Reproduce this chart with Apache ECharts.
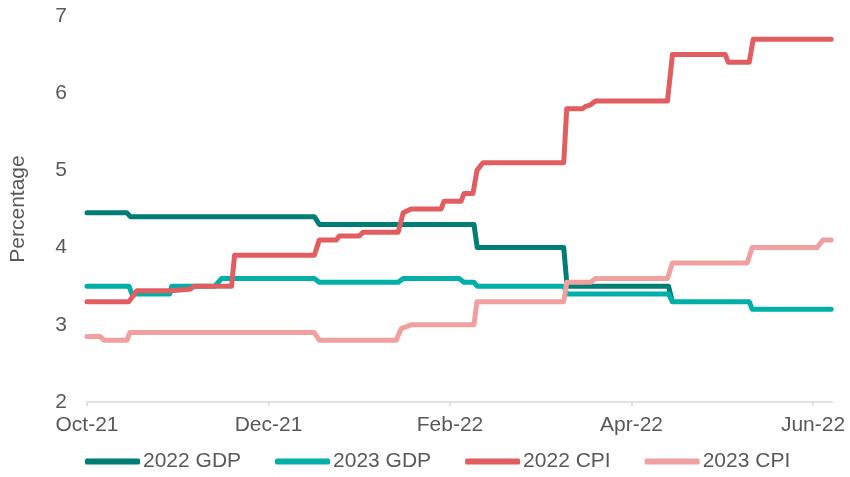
<!DOCTYPE html>
<html>
<head>
<meta charset="utf-8">
<title>GDP and CPI forecasts</title>
<script src="https://cdn.jsdelivr.net/npm/echarts@6/dist/echarts.min.js"></script>
<style>
  html, body { margin: 0; padding: 0; background: #ffffff; }
  #chart { width: 850px; height: 477px; }
</style>
</head>
<body>
<div id="chart"></div>
<script>
// x positions are measured in months from 1 Oct 2021
const tickLabels = ['Oct-21', 'Dec-21', 'Feb-22', 'Apr-22', 'Jun-22'];
const tickStep = 2;

const seriesNames = ['2022 GDP', '2023 GDP', '2022 CPI', '2023 CPI'];

const gdp2022 = [
  [0, 4.45], [0.44, 4.45], [0.48, 4.4], [2.505, 4.4], [2.56, 4.3],
  [4.264, 4.3], [4.30, 4.0], [5.253, 4.0], [5.29, 3.5], [6.407, 3.5], [6.45, 3.3]
];

const gdp2023 = [
  [0, 3.5], [0.462, 3.5], [0.495, 3.4], [0.912, 3.4], [0.934, 3.5],
  [1.407, 3.5], [1.484, 3.6], [2.505, 3.6], [2.56, 3.55], [3.429, 3.55],
  [3.484, 3.6], [4.099, 3.6], [4.154, 3.55], [4.264, 3.55], [4.30, 3.5],
  [5.253, 3.5], [5.29, 3.4], [6.407, 3.4], [6.45, 3.3], [7.297, 3.3],
  [7.33, 3.2], [8.2, 3.2]
];

const cpi2022 = [
  [0, 3.3], [0.462, 3.3], [0.549, 3.44], [0.912, 3.44], [0.934, 3.46],
  [1.132, 3.46], [1.187, 3.5], [1.593, 3.5], [1.626, 3.9], [2.505, 3.9],
  [2.56, 4.1], [2.747, 4.1], [2.78, 4.15], [3.0, 4.15], [3.044, 4.2],
  [3.429, 4.2], [3.484, 4.45], [3.571, 4.5], [3.901, 4.5], [3.934, 4.6],
  [4.121, 4.6], [4.154, 4.7], [4.253, 4.7], [4.297, 5.0], [4.363, 5.1],
  [5.253, 5.1], [5.286, 5.8], [5.462, 5.8], [5.495, 5.83], [5.549, 5.85],
  [5.604, 5.9], [6.396, 5.9], [6.451, 6.5], [7.033, 6.5], [7.066, 6.4],
  [7.297, 6.4], [7.341, 6.7], [8.2, 6.7]
];

const cpi2023 = [
  [0, 2.85], [0.143, 2.85], [0.187, 2.8], [0.44, 2.8], [0.473, 2.9],
  [2.505, 2.9], [2.56, 2.8], [3.407, 2.8], [3.462, 2.95], [3.571, 3.0],
  [4.264, 3.0], [4.297, 3.3], [5.253, 3.3], [5.286, 3.55], [5.549, 3.55],
  [5.604, 3.6], [6.396, 3.6], [6.451, 3.8], [7.275, 3.8], [7.33, 4.0],
  [8.044, 4.0], [8.11, 4.1], [8.2, 4.1]
];

const colors = ['#007d74', '#00afa8', '#e15d60', '#f1a0a0'];
const seriesData = [gdp2022, gdp2023, cpi2022, cpi2023];

const textColor = '#595959';
const fontFamily = '"Liberation Sans", Arial, sans-serif';

const chart = echarts.init(document.getElementById('chart'), null, { renderer: 'canvas' });

chart.setOption({
  animation: false,
  backgroundColor: '#ffffff',
  color: colors,
  textStyle: { fontFamily: fontFamily, color: textColor },
  grid: { left: 85, right: 17, top: 16, bottom: 75, containLabel: false },
  legend: {
    data: seriesNames,
    left: 85,
    top: 451,
    padding: 0,
    icon: 'roundRect',
    itemWidth: 55,
    itemHeight: 6,
    itemGap: 34,
    textStyle: { fontSize: 21, color: textColor, fontFamily: fontFamily, padding: [0, 0, 0, -2] }
  },
  xAxis: {
    type: 'value',
    min: 0,
    max: 8.22,
    interval: tickStep,
    splitLine: { show: false },
    axisLine: { show: true, lineStyle: { color: '#d9d9d9', width: 1.5 } },
    axisTick: { show: true, length: 4, lineStyle: { color: '#d9d9d9', width: 1.5 } },
    axisLabel: {
      margin: 13,
      fontSize: 21,
      color: textColor,
      fontFamily: fontFamily,
      showMaxLabel: false,
      formatter: function (v) {
        const i = Math.round(v / tickStep);
        return Math.abs(v - i * tickStep) < 1e-6 && tickLabels[i] ? tickLabels[i] : '';
      }
    }
  },
  yAxis: {
    type: 'value',
    min: 2,
    max: 7,
    interval: 1,
    name: 'Percentage',
    nameLocation: 'middle',
    nameGap: 58,
    nameRotate: 90,
    nameTextStyle: { fontSize: 21, color: textColor, fontFamily: fontFamily },
    splitLine: { show: false },
    axisLine: { show: false },
    axisTick: { show: false },
    axisLabel: { margin: 20, fontSize: 21, color: textColor, fontFamily: fontFamily }
  },
  series: seriesNames.map(function (name, i) {
    return {
      name: name,
      type: 'line',
      data: seriesData[i],
      showSymbol: false,
      symbol: 'none',
      smooth: false,
      lineStyle: { width: 5, color: colors[i], cap: 'round', join: 'round' },
      itemStyle: { color: colors[i] },
      emphasis: { disabled: true }
    };
  })
});
</script>
</body>
</html>
